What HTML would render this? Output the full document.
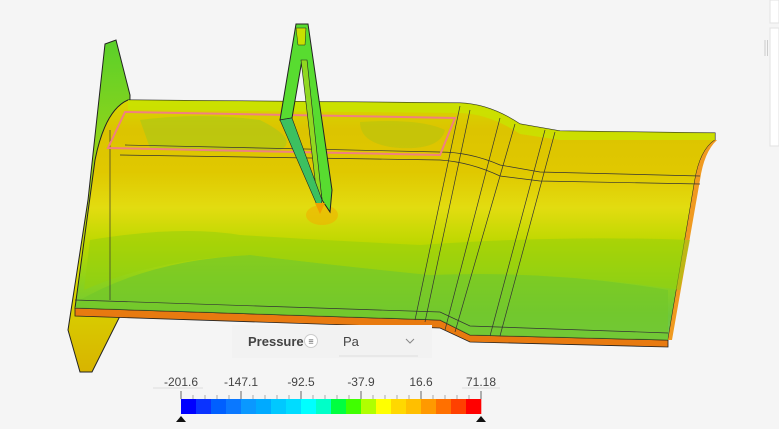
<!DOCTYPE html>
<html><head><meta charset="utf-8"><style>
html,body{margin:0;padding:0;background:#f5f5f5;width:779px;height:429px;overflow:hidden;font-family:"Liberation Sans",sans-serif;}
svg{position:absolute;left:0;top:0}
</style></head><body>
<svg width="779" height="429">
<defs>
<linearGradient id="wingGrad" x1="0" y1="0" x2="0" y2="1">
<stop offset="0" stop-color="#d6d800"/>
<stop offset="0.12" stop-color="#dcc400"/>
<stop offset="0.3" stop-color="#e0c800"/>
<stop offset="0.45" stop-color="#e2dc10"/>
<stop offset="0.6" stop-color="#bcd800"/>
<stop offset="0.75" stop-color="#8ed21a"/>
<stop offset="0.9" stop-color="#6ec83a"/>
<stop offset="1" stop-color="#70c85a"/>
</linearGradient>
<linearGradient id="plateGrad" x1="0" y1="0" x2="0" y2="1">
<stop offset="0" stop-color="#5ad02a"/>
<stop offset="0.3" stop-color="#8ed41a"/>
<stop offset="0.7" stop-color="#d8dc00"/>
<stop offset="1" stop-color="#d8b400"/>
</linearGradient>
</defs>
<g>
<rect x="770" y="0" width="9" height="23" fill="#fff" stroke="#e2e2e2"/>
<rect x="770" y="28" width="9" height="118" fill="#fff" stroke="#e2e2e2"/>
<line x1="765" y1="40" x2="765" y2="56" stroke="#ccc"/>
<line x1="767.5" y1="40" x2="767.5" y2="56" stroke="#ccc"/>
<polygon points="105,44 116,40 130,95 128,300 92,372 80,372 68,330 88,200" fill="url(#plateGrad)" stroke="#222" stroke-width="1"/>
<polygon points="75,308 440,320 470,335 668,340 668,347 470,342 440,328 75,316" fill="#e87a10" stroke="#222" stroke-width="0.8"/>
<path d="M128,100 L460,103 Q490,104 520,124 L560,131 L715,133 L715,140 Q700,150 695,180 L668,340 L470,335 L440,320 L75,308 L95,160 Q105,110 128,100 Z" fill="url(#wingGrad)" stroke="#222" stroke-width="1"/>
<path d="M128,100 L460,103 Q490,104 520,124 L560,131 L715,133 L715,140 L560,140 L520,134 Q490,114 460,113 L128,110 Z" fill="#c8e400" opacity="0.8"/>
<path d="M715,140 Q700,150 695,180 L668,340 L672,340 L700,180 Q704,152 717,140 Z" fill="#f09a20"/>
<path d="M140,120 Q200,112 260,120 Q300,140 280,150 Q220,155 150,148 Z" fill="#a8c818" opacity="0.6"/>
<path d="M360,122 Q420,118 445,130 Q440,150 400,148 Q360,145 360,122 Z" fill="#b0c410" opacity="0.5"/>
<path d="M80,300 Q150,260 250,255 Q330,265 430,275 Q550,270 668,290 L668,340 L470,335 L440,320 L75,308 Z" fill="#74c82a" opacity="0.7"/>
<path d="M90,240 Q180,225 240,235 Q320,240 420,245 Q560,235 690,240 L680,290 Q550,270 430,275 Q330,265 250,255 Q150,260 84,290 Z" fill="#96d00c" opacity="0.55"/>
<ellipse cx="322" cy="215" rx="16" ry="10" fill="#f0b000" opacity="0.6"/>
<g fill="none" stroke="#333" stroke-width="0.7">
<path d="M125,145 L440,152 Q470,152 500,165 L540,172 L700,176"/>
<path d="M120,155 L440,160 Q470,162 500,176 L540,181 L700,184"/>
<path d="M110,130 L110,300"/>
<path d="M460,106 L415,320"/>
<path d="M470,110 L425,322"/>
<path d="M500,118 L445,330"/>
<path d="M515,124 L455,332"/>
<path d="M545,130 L490,336"/>
<path d="M555,132 L500,336"/>
<path d="M75,300 L440,312 L470,326 L668,333"/>
</g>
<path d="M125,112 L455,118 L440,155 L108,148 Z" fill="none" stroke="#f08080" stroke-width="2"/>
<g stroke="#222" stroke-width="1">
<polygon points="296,24 308,24 332,190 330,212 322,200 302,60 292,118 280,120" fill="#58dc30"/>
<polygon points="301,60 307,60 322,200 318,205" fill="#90d820" stroke-width="0.6"/>
<polygon points="280,120 292,118 322,200 320,212" fill="#3cc060" stroke-width="0.6"/>
<polygon points="296,28 306,28 305,45 298,45" fill="#c8e000" stroke-width="0.5"/>
</g>
<polygon points="315,203 325,203 320,214" fill="#f0a000"/>
</g>
<g>
<rect x="232" y="325" width="200" height="33" fill="#f2f2f2"/>
<text x="248" y="346" font-size="13" font-weight="bold" fill="#444">Pressure</text>
<circle cx="311" cy="341" r="6.5" fill="#fff" stroke="#ccc"/>
<text x="311" y="344.5" font-size="9" fill="#555" text-anchor="middle">≡</text>
<text x="343" y="346" font-size="13" fill="#444">Pa</text>
<path d="M406,339 L410,343 L414,339" fill="none" stroke="#888"/>
<line x1="339" y1="356" x2="418" y2="356" stroke="#ddd"/>
</g>
<g id="legend"></g>
</svg>
<script>
const legendColors = ["#0000ff","#0a33ff","#005fff","#0a78ff","#0a98ff","#00aaff","#00c8ff","#00dcff","#00ffff","#00ffc8","#00ff40","#40ff00","#b0ff00","#ffff00","#ffd800","#ffbf00","#ff9900","#ff7000","#ff4000","#ff0000"];
const tickLabels = ["-201.6","-147.1","-92.5","-37.9","16.6","71.18"];
const ns = "http://www.w3.org/2000/svg";
const g = document.getElementById('legend');
const x0 = 181, x1 = 481, y0 = 399, h = 15;
const cw = (x1 - x0) / legendColors.length;
function mk(t, attrs){const e=document.createElementNS(ns,t);for(const k in attrs)e.setAttribute(k,attrs[k]);g.appendChild(e);return e;}
legendColors.forEach((c,i)=>{
  const r = mk('rect',{x:x0+i*cw,y:y0,width:cw+0.3,height:h,fill:c});
  
  
});
const nMinor = 25;
for(let i=0;i<=nMinor;i++){
  const x = x0 + i*(x1-x0)/nMinor;
  const major = i%5===0;
  const l = mk('line',{x1:x,x2:x,y1:major?391:395,y2:y0,stroke:major?'#666':'#aaa','stroke-width':1});
  
  
}
tickLabels.forEach((t,i)=>{
  const x = x0 + i*(x1-x0)/(tickLabels.length-1);
  const tx = mk('text',{x:x,y:386,'font-size':12,fill:'#444','text-anchor':'middle'});
  tx.textContent = t;
  
  
});
mk('line',{x1:153,x2:203,y1:388,y2:388,stroke:'#ddd'});
mk('line',{x1:462,x2:500,y1:388,y2:388,stroke:'#ddd'});
[x0,x1].forEach(x=>{
  const p = mk('polygon',{points:`${x-5},${y0+h+8} ${x+5},${y0+h+8} ${x},${y0+h+2}`,fill:'#111'});
  
  
});
</script>
</body></html>
